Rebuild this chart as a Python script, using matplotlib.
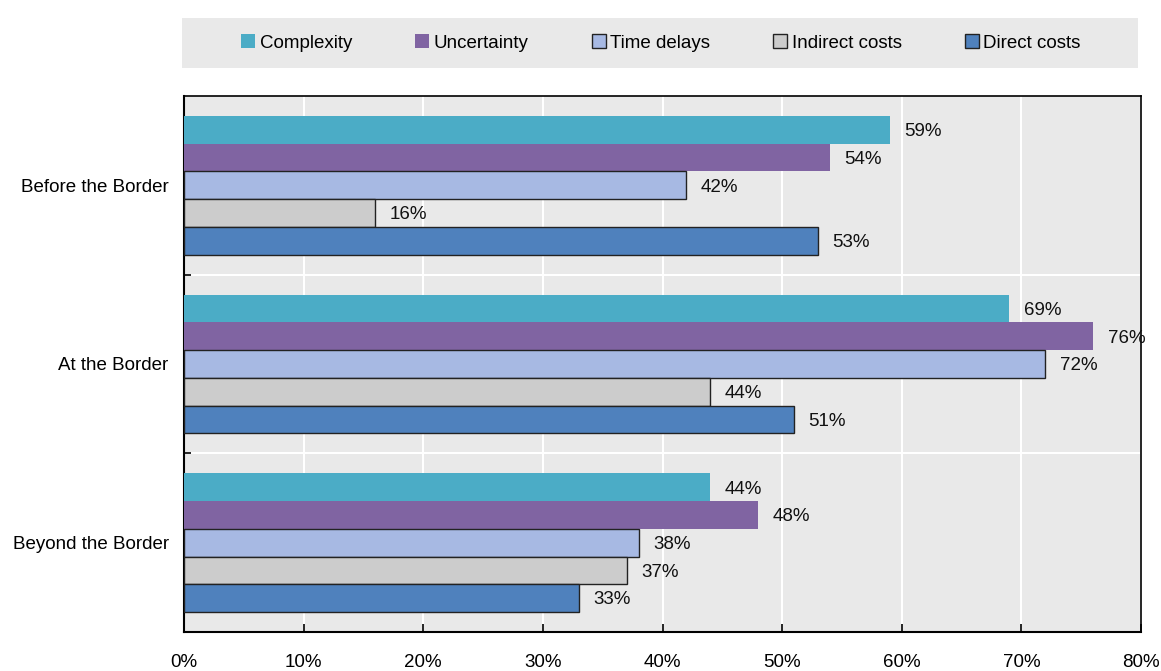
import matplotlib
matplotlib.use("Agg")
import matplotlib.pyplot as plt
import numpy as np
from matplotlib.patches import Rectangle

categories = ["Before the Border", "At the Border", "Beyond the Border"]
series = ["Complexity", "Uncertainty", "Time delays", "Indirect costs", "Direct costs"]
complexity = [59, 69, 44]
uncertainty = [54, 76, 48]
time_delays = [42, 72, 38]
indirect_costs = [16, 44, 37]
direct_costs = [53, 51, 33]
xticks = [0, 10, 20, 30, 40, 50, 60, 70, 80]

values = [complexity, uncertainty, time_delays, indirect_costs, direct_costs]
colors = ["#4bacc6", "#8064a2", "#a7b9e3", "#cccccc", "#4f81bd"]
edges = [None, None, "#222222", "#222222", "#222222"]

plt.rcParams["font.family"] = ["Liberation Sans", "DejaVu Sans"]
FS = 13.5

fig = plt.figure(figsize=(11.61, 6.71), dpi=100)
W, H = 1161, 671
ax = fig.add_axes([184 / W, 1 - 632 / H, (1141 - 184) / W, (632 - 96) / H])
ax.set_facecolor("#e9e9e9")

h = 0.155
y0 = np.arange(len(categories))
for i, (vals, c, e) in enumerate(zip(values, colors, edges)):
    ys = y0 + (i - 2) * h
    ax.barh(ys, vals, height=h, color=c, edgecolor=e if e else c,
            linewidth=1.0 if e else 0.0, zorder=3, label=series[i])
    for y, v in zip(ys, vals):
        ax.text(v + 1.2, y + 0.01, f"{v}%", va="center", ha="left", fontsize=FS,
                color="#111111", zorder=4, clip_on=False)

ax.set_ylim(2.5, -0.5)
ax.set_xlim(0, 80)
ax.set_xticks(xticks)
ax.set_xticklabels([f"{t}%" for t in xticks], fontsize=FS)
ax.set_yticks(y0)
ax.set_yticklabels(categories, fontsize=FS)
ax.set_yticks([0.5, 1.5], minor=True)
ax.tick_params(axis="y", which="major", length=0, pad=11)
ax.tick_params(axis="y", which="minor", length=5, direction="in", width=1.2, color="black")
ax.tick_params(axis="x", which="major", length=6, direction="in", width=1.2, pad=22)
ax.grid(axis="x", color="white", linewidth=1.5, zorder=0)
ax.grid(axis="y", which="minor", color="white", linewidth=1.5, zorder=0)
ax.set_axisbelow(True)
for s in ["top", "right"]:
    ax.spines[s].set_linewidth(1.2)
for s in ["left", "bottom"]:
    ax.spines[s].set_linewidth(1.5)
for lbl in ax.get_xticklabels():
    lbl.set_va("center")

# legend background
fig.patches.append(Rectangle((182 / W, 1 - 68 / H), (1138 - 182) / W, 50 / H,
                             transform=fig.transFigure, facecolor="#e9e9e9",
                             edgecolor="none", zorder=0))
handles, labels = ax.get_legend_handles_labels()
leg = fig.legend(handles, labels, loc="center", ncol=5,
                 bbox_to_anchor=(661 / W, 1 - 43 / H), frameon=False,
                 fontsize=FS, handlelength=0.75, handleheight=0.75,
                 handletextpad=0.25, columnspacing=3.35)

fig.savefig("out.png", dpi=100)
